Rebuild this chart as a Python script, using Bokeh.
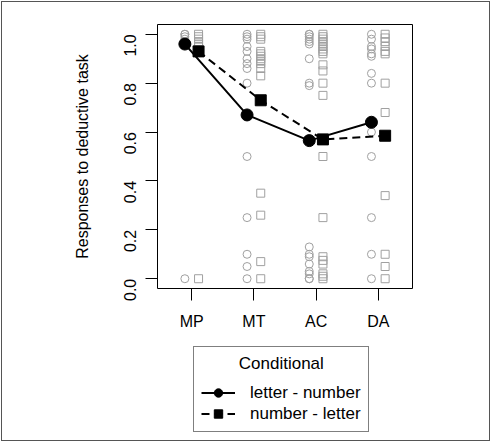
import math
from bokeh.plotting import figure
from bokeh.layouts import column
from bokeh.models import FixedTicker, Legend, LegendItem, Range1d
from bokeh.embed import file_html
from bokeh.resources import INLINE

categories = ["MP", "MT", "AC", "DA"]
mean_letter_number = [0.96, 0.67, 0.565, 0.64]
mean_number_letter = [0.93, 0.73, 0.57, 0.585]

# individual responses, letter - number (circles)
ln_mp = [1.0, 1.0, 0.99, 0.98, 0.0]
ln_mt = [1.0, 0.99, 0.98, 0.95, 0.93, 0.9, 0.88, 0.86, 0.8, 0.5, 0.25, 0.1, 0.05, 0.0]
ln_ac = [1.0, 1.0, 0.99, 0.98, 0.97, 0.96, 0.9, 0.8, 0.79, 0.13, 0.1, 0.09, 0.06, 0.03, 0.02, 0.0, 0.0]
ln_da = [1.0, 0.98, 0.95, 0.94, 0.92, 0.91, 0.84, 0.8, 0.6, 0.5, 0.25, 0.1, 0.0]
# individual responses, number - letter (squares)
nl_mp = [1.0, 0.99, 0.98, 0.97, 0.96, 0.95, 0.0]
nl_mt = [1.0, 0.99, 0.98, 0.93, 0.92, 0.91, 0.9, 0.89, 0.88, 0.86, 0.83, 0.35, 0.26, 0.07, 0.0]
nl_ac = [1.0, 0.99, 0.98, 0.97, 0.96, 0.95, 0.94, 0.93, 0.92, 0.875, 0.85, 0.8, 0.75, 0.5, 0.25,
         0.09, 0.075, 0.06, 0.02, 0.01, 0.0]
nl_da = [1.0, 0.985, 0.97, 0.95, 0.93, 0.92, 0.8, 0.68, 0.34, 0.1, 0.05, 0.0]

y_ticks = [0.0, 0.2, 0.4, 0.6, 0.8, 1.0]
legend_title = "Conditional"
legend_labels = ["letter - number", "number - letter"]

FONT = "Liberation Sans"
OFF = 0.11
NAN = float("nan")

p = figure(width=487, height=332, output_backend="svg", toolbar_location=None,
           x_range=Range1d(0.45, 4.55), y_range=Range1d(-0.04, 1.04),
           frame_width=255, frame_height=264,
           min_border_left=155, min_border_right=77, min_border_top=22, min_border_bottom=46)
p.grid.visible = False
p.outline_line_color = "black"
p.outline_line_width = 1
p.background_fill_color = "white"
p.border_fill_color = "white"

ln_lists = [ln_mp, ln_mt, ln_ac, ln_da]
nl_lists = [nl_mp, nl_mt, nl_ac, nl_da]
gx_c, gy_c, gx_s, gy_s = [], [], [], []
for i, (a, b) in enumerate(zip(ln_lists, nl_lists)):
    gx_c += [i + 1 - OFF] * len(a)
    gy_c += a
    gx_s += [i + 1 + OFF] * len(b)
    gy_s += b

p.scatter(gx_c, gy_c, marker="circle", size=8, fill_color=None, line_color="#a0a0a0", line_width=1)
p.scatter(gx_s, gy_s, marker="square", size=8, fill_color=None, line_color="#a0a0a0", line_width=1)

xc = [i + 1 - OFF for i in range(len(categories))]
xs = [i + 1 + OFF for i in range(len(categories))]
LN = dict(line_color="black", line_width=2)
NL = dict(line_color="black", line_width=2, line_dash="8 5")
p.line(xc, mean_letter_number, **LN)
p.scatter(xc, mean_letter_number, marker="circle", size=12, color="black")
p.line(xs, mean_number_letter, **NL)
p.scatter(xs, mean_number_letter, marker="square", size=11, color="black")

p.xaxis.ticker = FixedTicker(ticks=[1, 2, 3, 4])
p.xaxis.major_label_overrides = {i + 1: c for i, c in enumerate(categories)}
p.yaxis.ticker = FixedTicker(ticks=y_ticks)
p.yaxis.major_label_overrides = {t: f"{t:.1f}" for t in y_ticks}
p.yaxis.major_label_orientation = math.pi / 2
p.yaxis.axis_label = "Responses to deductive task"

for ax in (p.xaxis[0], p.yaxis[0]):
    ax.axis_line_color = None
    ax.major_tick_line_color = "black"
    ax.major_tick_out = 12
    ax.major_tick_in = 0
    ax.minor_tick_line_color = None
    ax.major_label_text_font = FONT
    ax.major_label_text_font_size = "16px"
    ax.major_label_text_color = "black"
    ax.axis_label_text_font = FONT
    ax.axis_label_text_font_size = "16px"
    ax.axis_label_text_font_style = "normal"
    ax.axis_label_text_color = "black"

p.xaxis.major_label_standoff = 12
p.yaxis.major_label_standoff = 15
p.yaxis.axis_label_standoff = 25

# legend panel below the plot
lp = figure(width=487, height=106, output_backend="svg", toolbar_location=None,
            x_range=Range1d(0, 1), y_range=Range1d(0, 1),
            x_axis_location=None, y_axis_location=None,
            min_border_left=0, min_border_right=0, min_border_top=0, min_border_bottom=0)
lp.grid.visible = False
lp.outline_line_color = None
lp.border_fill_color = "white"
lp.background_fill_color = "white"
r1 = lp.line([NAN], [NAN], **LN)
q1 = lp.scatter([NAN], [NAN], marker="circle", size=12, color="black")
r2 = lp.line([NAN], [NAN], **NL)
q2 = lp.scatter([NAN], [NAN], marker="square", size=11, color="black")

legend = Legend(items=[LegendItem(label=legend_labels[0], renderers=[r1, q1]),
                       LegendItem(label=legend_labels[1], renderers=[r2, q2])],
                title="\u00a0" * 8 + legend_title,
                location=(36, 8), orientation="vertical")
legend.title_text_font = FONT
legend.title_text_font_size = "17px"
legend.title_text_font_style = "normal"
legend.title_text_color = "black"
legend.title_standoff = 8
legend.label_text_font = FONT
legend.label_text_font_size = "17px"
legend.label_text_color = "black"
legend.glyph_width = 34
legend.glyph_height = 21
legend.label_height = 21
legend.label_standoff = 15
legend.spacing = 0
legend.padding = 7
legend.margin = 0
legend.border_line_color = "black"
legend.border_line_width = 1
legend.background_fill_alpha = 1
lp.add_layout(legend, "center")

layout = column(p, lp, spacing=0, styles={"border": "1px solid #555555", "margin": "1px"})

open("out.html", "w").write(file_html(layout, INLINE))
